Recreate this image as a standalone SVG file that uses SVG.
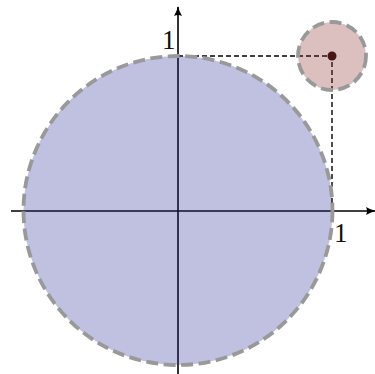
<svg xmlns="http://www.w3.org/2000/svg" width="375" height="374" viewBox="0 0 375 374">
<style>
.axis{stroke:#000;stroke-width:1.6;fill:none}
.guide{stroke:#000;stroke-width:1.4;stroke-dasharray:5,3;fill:none}
.circ{stroke:#999;stroke-width:3.8;stroke-dasharray:12,5.5}
.lbl{font-family:"Liberation Serif","DejaVu Serif",serif;font-size:27px;fill:#111}
</style>
<defs>
<marker id="arr" viewBox="0 0 10 10" refX="9" refY="5" markerWidth="10" markerHeight="10" markerUnits="userSpaceOnUse" orient="auto">
<path d="M0,1 Q5,4 10,5 Q5,6 0,9 Q2,5 0,1Z" fill="#000"/>
</marker>
</defs>
<g id="connectors">
<line class="axis" x1="11" y1="211" x2="375" y2="211" marker-end="url(#arr)"/>
<line class="axis" x1="178" y1="374" x2="178" y2="7" marker-end="url(#arr)"/>
<polyline class="guide" points="178,56 332,56 332,211"/>
</g>
<g id="point">
<circle cx="332" cy="56" r="4.5" fill="#2a0e0e"/>
</g>
<g id="unit-circle">
<circle class="circ" cx="178" cy="210.5" r="154.5" fill="#2d2d98" fill-opacity="0.3"/>
</g>
<g id="small-circle">
<circle class="circ" cx="332" cy="56" r="34" fill="#8a2d2d" fill-opacity="0.3"/>
</g>
<g id="labels">
<text class="lbl" x="162" y="49">1</text>
<text class="lbl" x="334" y="242">1</text>
</g>
</svg>
